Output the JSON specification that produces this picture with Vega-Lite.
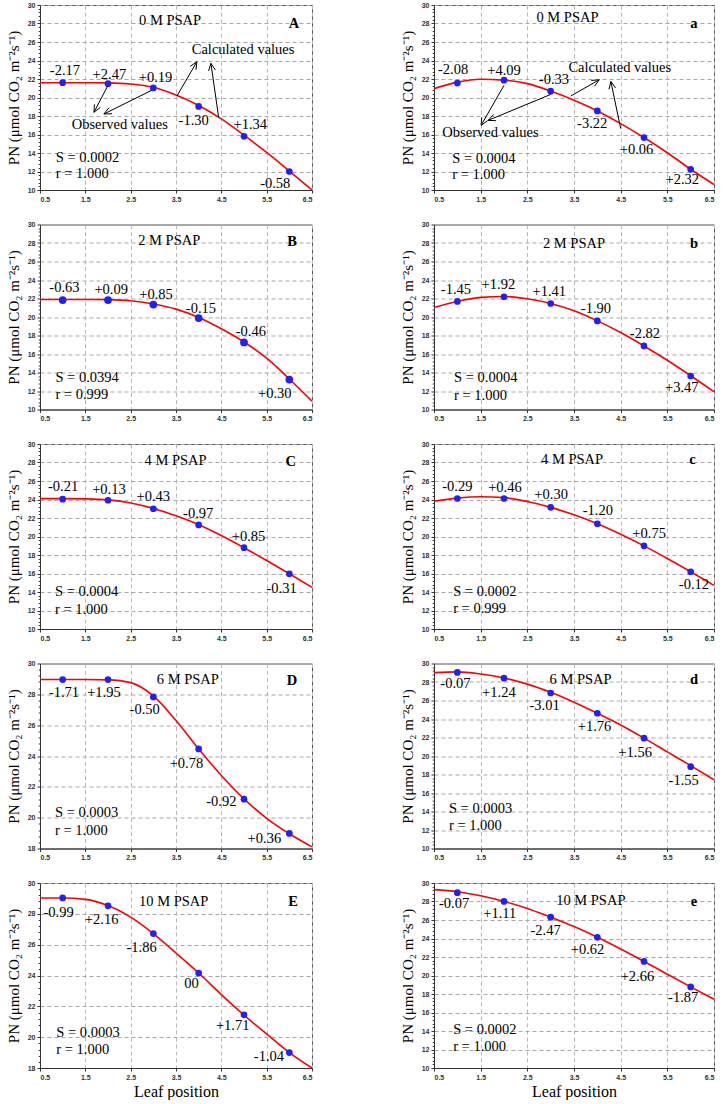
{
"$schema": "https://vega.github.io/schema/vega-lite/v6.json",
"padding": {"left": 5, "top": 0, "right": 2, "bottom": 0},
"background": "white",
"datasets": {
"curves": [
{"p":"A","x":0.5,"y":21.6},{"p":"A","x":1,"y":21.6},{"p":"A","x":1.5,"y":21.6},{"p":"A","x":2,"y":21.58},{"p":"A","x":2.5,"y":21.46},{"p":"A","x":3,"y":21.1},{"p":"A","x":3.5,"y":20.26},{"p":"A","x":4,"y":19.14},{"p":"A","x":4.5,"y":17.69},{"p":"A","x":5,"y":15.93},{"p":"A","x":5.5,"y":14.06},{"p":"A","x":6,"y":12.05},{"p":"A","x":6.5,"y":10.0},
{"p":"a","x":0.5,"y":20.96},{"p":"a","x":1,"y":21.66},{"p":"a","x":1.5,"y":21.98},{"p":"a","x":2,"y":21.88},{"p":"a","x":2.5,"y":21.5},{"p":"a","x":3,"y":20.7},{"p":"a","x":3.5,"y":19.7},{"p":"a","x":4,"y":18.55},{"p":"a","x":4.5,"y":17.18},{"p":"a","x":5,"y":15.67},{"p":"a","x":5.5,"y":14.03},{"p":"a","x":6,"y":12.24},{"p":"a","x":6.5,"y":10.6},
{"p":"B","x":0.5,"y":21.9},{"p":"B","x":1,"y":21.9},{"p":"B","x":1.5,"y":21.9},{"p":"B","x":2,"y":21.88},{"p":"B","x":2.5,"y":21.76},{"p":"B","x":3,"y":21.4},{"p":"B","x":3.5,"y":20.85},{"p":"B","x":4,"y":19.95},{"p":"B","x":4.5,"y":18.73},{"p":"B","x":5,"y":17.3},{"p":"B","x":5.5,"y":15.55},{"p":"B","x":6,"y":13.3},{"p":"B","x":6.5,"y":10.9},
{"p":"b","x":0.5,"y":21.03},{"p":"b","x":1,"y":21.68},{"p":"b","x":1.5,"y":22.12},{"p":"b","x":2,"y":22.22},{"p":"b","x":2.5,"y":21.97},{"p":"b","x":3,"y":21.46},{"p":"b","x":3.5,"y":20.67},{"p":"b","x":4,"y":19.58},{"p":"b","x":4.5,"y":18.32},{"p":"b","x":5,"y":16.87},{"p":"b","x":5.5,"y":15.32},{"p":"b","x":6,"y":13.65},{"p":"b","x":6.5,"y":11.92},
{"p":"C","x":0.5,"y":24.1},{"p":"C","x":1,"y":24.1},{"p":"C","x":1.5,"y":24.07},{"p":"C","x":2,"y":23.96},{"p":"C","x":2.5,"y":23.63},{"p":"C","x":3,"y":23.04},{"p":"C","x":3.5,"y":22.23},{"p":"C","x":4,"y":21.28},{"p":"C","x":4.5,"y":20.11},{"p":"C","x":5,"y":18.79},{"p":"C","x":5.5,"y":17.4},{"p":"C","x":6,"y":15.97},{"p":"C","x":6.5,"y":14.5},
{"p":"c","x":0.5,"y":23.81},{"p":"c","x":1,"y":24.15},{"p":"c","x":1.5,"y":24.3},{"p":"c","x":2,"y":24.2},{"p":"c","x":2.5,"y":23.78},{"p":"c","x":3,"y":23.15},{"p":"c","x":3.5,"y":22.34},{"p":"c","x":4,"y":21.38},{"p":"c","x":4.5,"y":20.24},{"p":"c","x":5,"y":18.99},{"p":"c","x":5.5,"y":17.62},{"p":"c","x":6,"y":16.19},{"p":"c","x":6.5,"y":14.71},
{"p":"D","x":0.5,"y":28.96},{"p":"D","x":1,"y":28.96},{"p":"D","x":1.5,"y":28.96},{"p":"D","x":2,"y":28.94},{"p":"D","x":2.5,"y":28.76},{"p":"D","x":3,"y":27.9},{"p":"D","x":3.5,"y":26.3},{"p":"D","x":4,"y":24.46},{"p":"D","x":4.5,"y":22.74},{"p":"D","x":5,"y":21.22},{"p":"D","x":5.5,"y":19.96},{"p":"D","x":6,"y":18.96},{"p":"D","x":6.5,"y":18.11},
{"p":"d","x":0.5,"y":29.01},{"p":"d","x":1,"y":29.1},{"p":"d","x":1.5,"y":28.87},{"p":"d","x":2,"y":28.44},{"p":"d","x":2.5,"y":27.77},{"p":"d","x":3,"y":26.88},{"p":"d","x":3.5,"y":25.82},{"p":"d","x":4,"y":24.62},{"p":"d","x":4.5,"y":23.35},{"p":"d","x":5,"y":21.93},{"p":"d","x":5.5,"y":20.44},{"p":"d","x":6,"y":18.96},{"p":"d","x":6.5,"y":17.43},
{"p":"E","x":0.5,"y":29.03},{"p":"E","x":1,"y":29.03},{"p":"E","x":1.5,"y":28.94},{"p":"E","x":2,"y":28.54},{"p":"E","x":2.5,"y":27.79},{"p":"E","x":3,"y":26.72},{"p":"E","x":3.5,"y":25.46},{"p":"E","x":4,"y":24.16},{"p":"E","x":4.5,"y":22.76},{"p":"E","x":5,"y":21.43},{"p":"E","x":5.5,"y":20.21},{"p":"E","x":6,"y":19.0},{"p":"E","x":6.5,"y":18.0},
{"p":"e","x":0.5,"y":29.28},{"p":"e","x":1,"y":29.06},{"p":"e","x":1.5,"y":28.62},{"p":"e","x":2,"y":28.01},{"p":"e","x":2.5,"y":27.25},{"p":"e","x":3,"y":26.3},{"p":"e","x":3.5,"y":25.29},{"p":"e","x":4,"y":24.13},{"p":"e","x":4.5,"y":22.86},{"p":"e","x":5,"y":21.52},{"p":"e","x":5.5,"y":20.14},{"p":"e","x":6,"y":18.77},{"p":"e","x":6.5,"y":17.43}
],
"obs": [
{"p":"A","x":1,"y":21.6},{"p":"A","x":2,"y":21.5},{"p":"A","x":3,"y":21.04},{"p":"A","x":4,"y":19.03},{"p":"A","x":5,"y":15.8},{"p":"A","x":6,"y":12.0},
{"p":"a","x":1,"y":21.56},{"p":"a","x":2,"y":21.87},{"p":"a","x":3,"y":20.68},{"p":"a","x":4,"y":18.55},{"p":"a","x":5,"y":15.67},{"p":"a","x":6,"y":12.24},
{"p":"B","x":1,"y":21.83},{"p":"B","x":2,"y":21.83},{"p":"B","x":3,"y":21.34},{"p":"B","x":4,"y":19.89},{"p":"B","x":5,"y":17.25},{"p":"B","x":6,"y":13.24},
{"p":"b","x":1,"y":21.68},{"p":"b","x":2,"y":22.19},{"p":"b","x":3,"y":21.46},{"p":"b","x":4,"y":19.58},{"p":"b","x":5,"y":16.87},{"p":"b","x":6,"y":13.62},
{"p":"C","x":1,"y":24.03},{"p":"C","x":2,"y":23.92},{"p":"C","x":3,"y":23.0},{"p":"C","x":4,"y":21.25},{"p":"C","x":5,"y":18.79},{"p":"C","x":6,"y":15.97},
{"p":"c","x":1,"y":24.11},{"p":"c","x":2,"y":24.11},{"p":"c","x":3,"y":23.15},{"p":"c","x":4,"y":21.38},{"p":"c","x":5,"y":18.99},{"p":"c","x":6,"y":16.19},
{"p":"D","x":1,"y":28.96},{"p":"D","x":2,"y":28.96},{"p":"D","x":3,"y":27.83},{"p":"D","x":4,"y":24.46},{"p":"D","x":5,"y":21.2},{"p":"D","x":6,"y":18.98},
{"p":"d","x":1,"y":29.04},{"p":"d","x":2,"y":28.41},{"p":"d","x":3,"y":26.81},{"p":"d","x":4,"y":24.62},{"p":"d","x":5,"y":21.93},{"p":"d","x":6,"y":18.85},
{"p":"E","x":1,"y":29.03},{"p":"E","x":2,"y":28.52},{"p":"E","x":3,"y":26.72},{"p":"E","x":4,"y":24.16},{"p":"E","x":5,"y":21.45},{"p":"E","x":6,"y":19.0},
{"p":"e","x":1,"y":28.95},{"p":"e","x":2,"y":28.01},{"p":"e","x":3,"y":26.3},{"p":"e","x":4,"y":24.13},{"p":"e","x":5,"y":21.52},{"p":"e","x":6,"y":18.77}
],
"labels": [
{"p":"A","r":"v","x":1.05,"y":22.9,"t":"-2.17"},{"p":"A","r":"v","x":2.03,"y":22.45,"t":"+2.47"},{"p":"A","r":"v","x":3.05,"y":22.1,"t":"+0.19"},{"p":"A","r":"v","x":3.89,"y":17.5,"t":"-1.30"},{"p":"A","r":"v","x":5.14,"y":17.0,"t":"+1.34"},{"p":"A","r":"v","x":5.69,"y":10.6,"t":"-0.58"},
{"p":"A","r":"n","x":2.26,"y":17.0,"t":"Observed values"},{"p":"A","r":"n","x":4.98,"y":25.1,"t":"Calculated values"},{"p":"A","r":"h","x":3.37,"y":28.3,"t":"0 M PSAP"},{"p":"A","r":"k","x":6.1,"y":28.0,"t":"A"},{"p":"A","r":"s","x":0.85,"y":13.5,"t":"S = 0.0002"},{"p":"A","r":"s","x":0.85,"y":11.7,"t":"r = 1.000"},
{"p":"a","r":"v","x":0.91,"y":22.96,"t":"-2.08"},{"p":"a","r":"v","x":2.0,"y":22.9,"t":"+4.09"},{"p":"a","r":"v","x":3.07,"y":21.9,"t":"-0.33"},{"p":"a","r":"v","x":3.89,"y":17.1,"t":"-3.22"},{"p":"a","r":"v","x":4.84,"y":14.3,"t":"+0.06"},{"p":"a","r":"v","x":5.82,"y":11.1,"t":"+2.32"},
{"p":"a","r":"n","x":1.71,"y":16.2,"t":"Observed values"},{"p":"a","r":"n","x":4.48,"y":23.2,"t":"Calculated values"},{"p":"a","r":"h","x":3.36,"y":28.6,"t":"0 M PSAP"},{"p":"a","r":"k","x":6.07,"y":28.0,"t":"a"},{"p":"a","r":"s","x":0.89,"y":13.3,"t":"S = 0.0004"},{"p":"a","r":"s","x":0.89,"y":11.6,"t":"r = 1.000"},
{"p":"B","r":"v","x":1.04,"y":23.13,"t":"-0.63"},{"p":"B","r":"v","x":2.07,"y":22.96,"t":"+0.09"},{"p":"B","r":"v","x":3.06,"y":22.43,"t":"+0.85"},{"p":"B","r":"v","x":4.05,"y":20.85,"t":"-0.15"},{"p":"B","r":"v","x":5.15,"y":18.38,"t":"-0.46"},{"p":"B","r":"v","x":5.68,"y":11.7,"t":"+0.30"},
{"p":"B","r":"h","x":3.35,"y":28.24,"t":"2 M PSAP"},{"p":"B","r":"k","x":6.06,"y":28.06,"t":"B"},{"p":"B","r":"s","x":0.84,"y":13.38,"t":"S = 0.0394"},{"p":"B","r":"s","x":0.84,"y":11.62,"t":"r = 0.999"},
{"p":"b","r":"v","x":0.97,"y":22.91,"t":"-1.45"},{"p":"b","r":"v","x":1.88,"y":23.45,"t":"+1.92"},{"p":"b","r":"v","x":2.97,"y":22.66,"t":"+1.41"},{"p":"b","r":"v","x":3.97,"y":20.85,"t":"-1.90"},{"p":"b","r":"v","x":5.02,"y":18.21,"t":"-2.82"},{"p":"b","r":"v","x":5.81,"y":12.35,"t":"+3.47"},
{"p":"b","r":"h","x":3.5,"y":27.9,"t":"2 M PSAP"},{"p":"b","r":"k","x":6.07,"y":27.9,"t":"b"},{"p":"b","r":"s","x":0.93,"y":13.36,"t":"S = 0.0004"},{"p":"b","r":"s","x":0.93,"y":11.45,"t":"r = 1.000"},
{"p":"C","r":"v","x":1.01,"y":25.31,"t":"-0.21"},{"p":"C","r":"v","x":2.02,"y":25.02,"t":"+0.13"},{"p":"C","r":"v","x":3.0,"y":24.29,"t":"+0.43"},{"p":"C","r":"v","x":3.99,"y":22.38,"t":"-0.97"},{"p":"C","r":"v","x":5.1,"y":20.0,"t":"+0.85"},{"p":"C","r":"v","x":5.83,"y":14.32,"t":"-0.31"},
{"p":"C","r":"h","x":3.49,"y":28.17,"t":"4 M PSAP"},{"p":"C","r":"k","x":6.03,"y":28.06,"t":"C"},{"p":"C","r":"s","x":0.83,"y":13.96,"t":"S = 0.0004"},{"p":"C","r":"s","x":0.83,"y":12.05,"t":"r = 1.000"},
{"p":"c","r":"v","x":1.0,"y":25.4,"t":"-0.29"},{"p":"c","r":"v","x":2.02,"y":25.29,"t":"+0.46"},{"p":"c","r":"v","x":3.01,"y":24.44,"t":"+0.30"},{"p":"c","r":"v","x":4.01,"y":22.78,"t":"-1.20"},{"p":"c","r":"v","x":5.11,"y":20.24,"t":"+0.75"},{"p":"c","r":"v","x":6.07,"y":14.79,"t":"-0.12"},
{"p":"c","r":"h","x":3.46,"y":28.23,"t":"4 M PSAP"},{"p":"c","r":"k","x":6.04,"y":28.23,"t":"c"},{"p":"c","r":"s","x":0.91,"y":14.05,"t":"S = 0.0002"},{"p":"c","r":"s","x":0.91,"y":12.21,"t":"r = 0.999"},
{"p":"D","r":"v","x":1.03,"y":28.11,"t":"-1.71"},{"p":"D","r":"v","x":1.91,"y":28.11,"t":"+1.95"},{"p":"D","r":"v","x":2.81,"y":26.96,"t":"-0.50"},{"p":"D","r":"v","x":3.73,"y":23.48,"t":"+0.78"},{"p":"D","r":"v","x":4.5,"y":21.04,"t":"-0.92"},{"p":"D","r":"v","x":5.45,"y":18.61,"t":"+0.36"},
{"p":"D","r":"h","x":3.76,"y":28.91,"t":"6 M PSAP"},{"p":"D","r":"k","x":6.06,"y":28.87,"t":"D"},{"p":"D","r":"s","x":0.83,"y":20.28,"t":"S = 0.0003"},{"p":"D","r":"s","x":0.83,"y":19.13,"t":"r = 1.000"},
{"p":"d","r":"v","x":0.96,"y":27.81,"t":"-0.07"},{"p":"d","r":"v","x":1.89,"y":26.81,"t":"+1.24"},{"p":"d","r":"v","x":2.87,"y":25.4,"t":"-3.01"},{"p":"d","r":"v","x":3.94,"y":23.1,"t":"+1.76"},{"p":"d","r":"v","x":4.81,"y":20.37,"t":"+1.56"},{"p":"d","r":"v","x":5.85,"y":17.26,"t":"-1.55"},
{"p":"d","r":"h","x":3.64,"y":28.23,"t":"6 M PSAP"},{"p":"d","r":"k","x":6.07,"y":28.23,"t":"d"},{"p":"d","r":"s","x":0.82,"y":14.32,"t":"S = 0.0003"},{"p":"d","r":"s","x":0.82,"y":12.48,"t":"r = 1.000"},
{"p":"E","r":"v","x":0.91,"y":28.07,"t":"-0.99"},{"p":"E","r":"v","x":1.86,"y":27.63,"t":"+2.16"},{"p":"E","r":"v","x":2.74,"y":25.79,"t":"-1.86"},{"p":"E","r":"v","x":3.84,"y":23.42,"t":"00"},{"p":"E","r":"v","x":4.75,"y":20.7,"t":"+1.71"},{"p":"E","r":"v","x":5.55,"y":18.71,"t":"-1.04"},
{"p":"E","r":"h","x":3.45,"y":28.74,"t":"10 M PSAP"},{"p":"E","r":"k","x":6.08,"y":28.74,"t":"E"},{"p":"E","r":"s","x":0.86,"y":20.26,"t":"S = 0.0003"},{"p":"E","r":"s","x":0.86,"y":19.15,"t":"r = 1.000"},
{"p":"e","r":"v","x":0.93,"y":27.68,"t":"-0.07"},{"p":"e","r":"v","x":1.91,"y":26.67,"t":"+1.11"},{"p":"e","r":"v","x":2.89,"y":24.86,"t":"-2.47"},{"p":"e","r":"v","x":3.79,"y":22.79,"t":"+0.62"},{"p":"e","r":"v","x":4.86,"y":19.86,"t":"+2.66"},{"p":"e","r":"v","x":5.84,"y":17.54,"t":"-1.87"},
{"p":"e","r":"h","x":3.86,"y":28.04,"t":"10 M PSAP"},{"p":"e","r":"k","x":6.07,"y":27.93,"t":"e"},{"p":"e","r":"s","x":0.91,"y":14.06,"t":"S = 0.0002"},{"p":"e","r":"s","x":0.91,"y":12.25,"t":"r = 1.000"}
],
"arrows": [
{"p":"A","x":1.99,"y":21.22,"x2":1.69,"y2":18.4},{"p":"A","x":1.69,"y":18.4,"x2":1.83,"y2":18.93},{"p":"A","x":1.69,"y":18.4,"x2":1.70,"y2":19.26},
{"p":"A","x":2.97,"y":20.79,"x2":1.91,"y2":18.22},{"p":"A","x":1.91,"y":18.22,"x2":2.09,"y2":18.24},{"p":"A","x":1.91,"y":18.22,"x2":2.02,"y2":18.89},
{"p":"A","x":3.52,"y":20.16,"x2":3.96,"y2":23.86},{"p":"A","x":3.96,"y":23.86,"x2":3.815,"y2":23.37},{"p":"A","x":3.96,"y":23.86,"x2":3.94,"y2":23.0},
{"p":"A","x":4.44,"y":17.87,"x2":4.27,"y2":23.69},{"p":"A","x":4.27,"y":23.69,"x2":4.22,"y2":22.87},{"p":"A","x":4.27,"y":23.69,"x2":4.37,"y2":22.97},
{"p":"a","x":2.0,"y":21.31,"x2":1.51,"y2":17.0},{"p":"a","x":1.51,"y":17.0,"x2":1.65,"y2":17.5},{"p":"a","x":1.51,"y":17.0,"x2":1.524,"y2":17.86},
{"p":"a","x":3.0,"y":20.33,"x2":1.66,"y2":17.53},{"p":"a","x":1.66,"y":17.53,"x2":1.83,"y2":17.49},{"p":"a","x":1.66,"y":17.53,"x2":1.78,"y2":18.17},
{"p":"a","x":3.43,"y":20.16,"x2":4.04,"y2":21.91},{"p":"a","x":4.04,"y":21.91,"x2":3.87,"y2":21.84},{"p":"a","x":4.04,"y":21.91,"x2":3.94,"y2":21.21},
{"p":"a","x":4.5,"y":16.65,"x2":4.29,"y2":21.73},{"p":"a","x":4.29,"y":21.73,"x2":4.25,"y2":20.89},{"p":"a","x":4.29,"y":21.73,"x2":4.39,"y2":21.04}
]
},
"concat": [
{"width":272,"height":185,
 "encoding":{"x":{"field":"x","type":"quantitative","scale":{"domain":[0.5,6.5],"nice":false,"zero":false},"axis":{"values":[0.5,1.5,2.5,3.5,4.5,5.5,6.5],"format":".1f","title":null}},
  "y":{"field":"y","type":"quantitative","scale":{"domain":[10,30],"nice":false,"zero":false},"axis":{"values":[10,10.4,10.8,11.2,11.6,12,12.4,12.8,13.2,13.6,14,14.4,14.8,15.2,15.6,16,16.4,16.8,17.2,17.6,18,18.4,18.8,19.2,19.6,20,20.4,20.8,21.2,21.6,22,22.4,22.8,23.2,23.6,24,24.4,24.8,25.2,25.6,26,26.4,26.8,27.2,27.6,28,28.4,28.8,29.2,29.6,30],"title":"PN (μmol CO₂ m⁻²s⁻¹)","tickSize":{"condition":{"test":"datum.value % 2 === 0","value":3},"value":1.8},"gridColor":{"condition":{"test":"datum.value % 2 === 0","value":"#a8a8a8"},"value":"rgba(255,255,255,0)"}}}},
 "layer":[
  {"data":{"name":"curves"},"transform":[{"filter":"datum.p==='A'"}],"mark":{"type":"line","color":"#ff0000","strokeWidth":1.6,"interpolate":"monotone","clip":true},"encoding":{}},
  {"data":{"name":"obs"},"transform":[{"filter":"datum.p==='A'"}],"mark":{"type":"point","filled":true,"color":"#2020ff","size":45,"opacity":1}},
  {"data":{"name":"labels"},"transform":[{"filter":"datum.p==='A' && datum.r!=='s' && datum.r!=='k'"}],"mark":{"type":"text","font":"Liberation Serif","fontSize":14.5,"align":"center","baseline":"middle","color":"#000"},"encoding":{"text":{"field":"t"}}},
  {"data":{"name":"labels"},"transform":[{"filter":"datum.p==='A' && datum.r==='s'"}],"mark":{"type":"text","font":"Liberation Serif","fontSize":14.5,"align":"left","baseline":"middle","color":"#000"},"encoding":{"text":{"field":"t"}}},
  {"data":{"name":"labels"},"transform":[{"filter":"datum.p==='A' && datum.r==='k'"}],"mark":{"type":"text","font":"Liberation Serif","fontSize":14.5,"fontWeight":"bold","align":"center","baseline":"middle","color":"#000"},"encoding":{"text":{"field":"t"}}},
  {"data":{"name":"arrows"},"transform":[{"filter":"datum.p==='A'"}],"mark":{"type":"rule","color":"#000","strokeWidth":1},"encoding":{"x2":{"field":"x2"},"y2":{"field":"y2"}}}
 ]},
{"width":280,"height":185,
 "encoding":{"x":{"field":"x","type":"quantitative","scale":{"domain":[0.5,6.5],"nice":false,"zero":false},"axis":{"values":[0.5,1.5,2.5,3.5,4.5,5.5,6.5],"format":".1f","title":null}},
  "y":{"field":"y","type":"quantitative","scale":{"domain":[10,30],"nice":false,"zero":false},"axis":{"values":[10,10.4,10.8,11.2,11.6,12,12.4,12.8,13.2,13.6,14,14.4,14.8,15.2,15.6,16,16.4,16.8,17.2,17.6,18,18.4,18.8,19.2,19.6,20,20.4,20.8,21.2,21.6,22,22.4,22.8,23.2,23.6,24,24.4,24.8,25.2,25.6,26,26.4,26.8,27.2,27.6,28,28.4,28.8,29.2,29.6,30],"title":"PN (μmol CO₂ m⁻²s⁻¹)","tickSize":{"condition":{"test":"datum.value % 2 === 0","value":3},"value":1.8},"gridColor":{"condition":{"test":"datum.value % 2 === 0","value":"#a8a8a8"},"value":"rgba(255,255,255,0)"}}}},
 "layer":[
  {"data":{"name":"curves"},"transform":[{"filter":"datum.p==='a'"}],"mark":{"type":"line","color":"#ff0000","strokeWidth":1.6,"interpolate":"monotone","clip":true},"encoding":{}},
  {"data":{"name":"obs"},"transform":[{"filter":"datum.p==='a'"}],"mark":{"type":"point","filled":true,"color":"#2020ff","size":45,"opacity":1}},
  {"data":{"name":"labels"},"transform":[{"filter":"datum.p==='a' && datum.r!=='s' && datum.r!=='k'"}],"mark":{"type":"text","font":"Liberation Serif","fontSize":14.5,"align":"center","baseline":"middle","color":"#000"},"encoding":{"text":{"field":"t"}}},
  {"data":{"name":"labels"},"transform":[{"filter":"datum.p==='a' && datum.r==='s'"}],"mark":{"type":"text","font":"Liberation Serif","fontSize":14.5,"align":"left","baseline":"middle","color":"#000"},"encoding":{"text":{"field":"t"}}},
  {"data":{"name":"labels"},"transform":[{"filter":"datum.p==='a' && datum.r==='k'"}],"mark":{"type":"text","font":"Liberation Serif","fontSize":14.5,"fontWeight":"bold","align":"center","baseline":"middle","color":"#000"},"encoding":{"text":{"field":"t"}}},
  {"data":{"name":"arrows"},"transform":[{"filter":"datum.p==='a'"}],"mark":{"type":"rule","color":"#000","strokeWidth":1},"encoding":{"x2":{"field":"x2"},"y2":{"field":"y2"}}}
 ]},
{"width":272,"height":185,
 "encoding":{"x":{"field":"x","type":"quantitative","scale":{"domain":[0.5,6.5],"nice":false,"zero":false},"axis":{"values":[0.5,1.5,2.5,3.5,4.5,5.5,6.5],"format":".1f","title":null}},
  "y":{"field":"y","type":"quantitative","scale":{"domain":[10,30],"nice":false,"zero":false},"axis":{"values":[10,10.4,10.8,11.2,11.6,12,12.4,12.8,13.2,13.6,14,14.4,14.8,15.2,15.6,16,16.4,16.8,17.2,17.6,18,18.4,18.8,19.2,19.6,20,20.4,20.8,21.2,21.6,22,22.4,22.8,23.2,23.6,24,24.4,24.8,25.2,25.6,26,26.4,26.8,27.2,27.6,28,28.4,28.8,29.2,29.6,30],"title":"PN (μmol CO₂ m⁻²s⁻¹)","tickSize":{"condition":{"test":"datum.value % 2 === 0","value":3},"value":1.8},"gridColor":{"condition":{"test":"datum.value % 2 === 0","value":"#a8a8a8"},"value":"rgba(255,255,255,0)"}}}},
 "layer":[
  {"data":{"name":"curves"},"transform":[{"filter":"datum.p==='B'"}],"mark":{"type":"line","color":"#ff0000","strokeWidth":1.6,"interpolate":"monotone","clip":true},"encoding":{}},
  {"data":{"name":"obs"},"transform":[{"filter":"datum.p==='B'"}],"mark":{"type":"point","filled":true,"color":"#2020ff","size":60,"opacity":1}},
  {"data":{"name":"labels"},"transform":[{"filter":"datum.p==='B' && datum.r!=='s' && datum.r!=='k'"}],"mark":{"type":"text","font":"Liberation Serif","fontSize":14.5,"align":"center","baseline":"middle","color":"#000"},"encoding":{"text":{"field":"t"}}},
  {"data":{"name":"labels"},"transform":[{"filter":"datum.p==='B' && datum.r==='s'"}],"mark":{"type":"text","font":"Liberation Serif","fontSize":14.5,"align":"left","baseline":"middle","color":"#000"},"encoding":{"text":{"field":"t"}}},
  {"data":{"name":"labels"},"transform":[{"filter":"datum.p==='B' && datum.r==='k'"}],"mark":{"type":"text","font":"Liberation Serif","fontSize":14.5,"fontWeight":"bold","align":"center","baseline":"middle","color":"#000"},"encoding":{"text":{"field":"t"}}}
 ]},
{"width":280,"height":185,
 "encoding":{"x":{"field":"x","type":"quantitative","scale":{"domain":[0.5,6.5],"nice":false,"zero":false},"axis":{"values":[0.5,1.5,2.5,3.5,4.5,5.5,6.5],"format":".1f","title":null}},
  "y":{"field":"y","type":"quantitative","scale":{"domain":[10,30],"nice":false,"zero":false},"axis":{"values":[10,10.4,10.8,11.2,11.6,12,12.4,12.8,13.2,13.6,14,14.4,14.8,15.2,15.6,16,16.4,16.8,17.2,17.6,18,18.4,18.8,19.2,19.6,20,20.4,20.8,21.2,21.6,22,22.4,22.8,23.2,23.6,24,24.4,24.8,25.2,25.6,26,26.4,26.8,27.2,27.6,28,28.4,28.8,29.2,29.6,30],"title":"PN (μmol CO₂ m⁻²s⁻¹)","tickSize":{"condition":{"test":"datum.value % 2 === 0","value":3},"value":1.8},"gridColor":{"condition":{"test":"datum.value % 2 === 0","value":"#a8a8a8"},"value":"rgba(255,255,255,0)"}}}},
 "layer":[
  {"data":{"name":"curves"},"transform":[{"filter":"datum.p==='b'"}],"mark":{"type":"line","color":"#ff0000","strokeWidth":1.6,"interpolate":"monotone","clip":true},"encoding":{}},
  {"data":{"name":"obs"},"transform":[{"filter":"datum.p==='b'"}],"mark":{"type":"point","filled":true,"color":"#2020ff","size":45,"opacity":1}},
  {"data":{"name":"labels"},"transform":[{"filter":"datum.p==='b' && datum.r!=='s' && datum.r!=='k'"}],"mark":{"type":"text","font":"Liberation Serif","fontSize":14.5,"align":"center","baseline":"middle","color":"#000"},"encoding":{"text":{"field":"t"}}},
  {"data":{"name":"labels"},"transform":[{"filter":"datum.p==='b' && datum.r==='s'"}],"mark":{"type":"text","font":"Liberation Serif","fontSize":14.5,"align":"left","baseline":"middle","color":"#000"},"encoding":{"text":{"field":"t"}}},
  {"data":{"name":"labels"},"transform":[{"filter":"datum.p==='b' && datum.r==='k'"}],"mark":{"type":"text","font":"Liberation Serif","fontSize":14.5,"fontWeight":"bold","align":"center","baseline":"middle","color":"#000"},"encoding":{"text":{"field":"t"}}}
 ]},
{"width":272,"height":185,
 "encoding":{"x":{"field":"x","type":"quantitative","scale":{"domain":[0.5,6.5],"nice":false,"zero":false},"axis":{"values":[0.5,1.5,2.5,3.5,4.5,5.5,6.5],"format":".1f","title":null}},
  "y":{"field":"y","type":"quantitative","scale":{"domain":[10,30],"nice":false,"zero":false},"axis":{"values":[10,10.4,10.8,11.2,11.6,12,12.4,12.8,13.2,13.6,14,14.4,14.8,15.2,15.6,16,16.4,16.8,17.2,17.6,18,18.4,18.8,19.2,19.6,20,20.4,20.8,21.2,21.6,22,22.4,22.8,23.2,23.6,24,24.4,24.8,25.2,25.6,26,26.4,26.8,27.2,27.6,28,28.4,28.8,29.2,29.6,30],"title":"PN (μmol CO₂ m⁻²s⁻¹)","tickSize":{"condition":{"test":"datum.value % 2 === 0","value":3},"value":1.8},"gridColor":{"condition":{"test":"datum.value % 2 === 0","value":"#a8a8a8"},"value":"rgba(255,255,255,0)"}}}},
 "layer":[
  {"data":{"name":"curves"},"transform":[{"filter":"datum.p==='C'"}],"mark":{"type":"line","color":"#ff0000","strokeWidth":1.6,"interpolate":"monotone","clip":true},"encoding":{}},
  {"data":{"name":"obs"},"transform":[{"filter":"datum.p==='C'"}],"mark":{"type":"point","filled":true,"color":"#2020ff","size":45,"opacity":1}},
  {"data":{"name":"labels"},"transform":[{"filter":"datum.p==='C' && datum.r!=='s' && datum.r!=='k'"}],"mark":{"type":"text","font":"Liberation Serif","fontSize":14.5,"align":"center","baseline":"middle","color":"#000"},"encoding":{"text":{"field":"t"}}},
  {"data":{"name":"labels"},"transform":[{"filter":"datum.p==='C' && datum.r==='s'"}],"mark":{"type":"text","font":"Liberation Serif","fontSize":14.5,"align":"left","baseline":"middle","color":"#000"},"encoding":{"text":{"field":"t"}}},
  {"data":{"name":"labels"},"transform":[{"filter":"datum.p==='C' && datum.r==='k'"}],"mark":{"type":"text","font":"Liberation Serif","fontSize":14.5,"fontWeight":"bold","align":"center","baseline":"middle","color":"#000"},"encoding":{"text":{"field":"t"}}}
 ]},
{"width":280,"height":185,
 "encoding":{"x":{"field":"x","type":"quantitative","scale":{"domain":[0.5,6.5],"nice":false,"zero":false},"axis":{"values":[0.5,1.5,2.5,3.5,4.5,5.5,6.5],"format":".1f","title":null}},
  "y":{"field":"y","type":"quantitative","scale":{"domain":[10,30],"nice":false,"zero":false},"axis":{"values":[10,10.4,10.8,11.2,11.6,12,12.4,12.8,13.2,13.6,14,14.4,14.8,15.2,15.6,16,16.4,16.8,17.2,17.6,18,18.4,18.8,19.2,19.6,20,20.4,20.8,21.2,21.6,22,22.4,22.8,23.2,23.6,24,24.4,24.8,25.2,25.6,26,26.4,26.8,27.2,27.6,28,28.4,28.8,29.2,29.6,30],"title":"PN (μmol CO₂ m⁻²s⁻¹)","tickSize":{"condition":{"test":"datum.value % 2 === 0","value":3},"value":1.8},"gridColor":{"condition":{"test":"datum.value % 2 === 0","value":"#a8a8a8"},"value":"rgba(255,255,255,0)"}}}},
 "layer":[
  {"data":{"name":"curves"},"transform":[{"filter":"datum.p==='c'"}],"mark":{"type":"line","color":"#ff0000","strokeWidth":1.6,"interpolate":"monotone","clip":true},"encoding":{}},
  {"data":{"name":"obs"},"transform":[{"filter":"datum.p==='c'"}],"mark":{"type":"point","filled":true,"color":"#2020ff","size":45,"opacity":1}},
  {"data":{"name":"labels"},"transform":[{"filter":"datum.p==='c' && datum.r!=='s' && datum.r!=='k'"}],"mark":{"type":"text","font":"Liberation Serif","fontSize":14.5,"align":"center","baseline":"middle","color":"#000"},"encoding":{"text":{"field":"t"}}},
  {"data":{"name":"labels"},"transform":[{"filter":"datum.p==='c' && datum.r==='s'"}],"mark":{"type":"text","font":"Liberation Serif","fontSize":14.5,"align":"left","baseline":"middle","color":"#000"},"encoding":{"text":{"field":"t"}}},
  {"data":{"name":"labels"},"transform":[{"filter":"datum.p==='c' && datum.r==='k'"}],"mark":{"type":"text","font":"Liberation Serif","fontSize":14.5,"fontWeight":"bold","align":"center","baseline":"middle","color":"#000"},"encoding":{"text":{"field":"t"}}}
 ]},
{"width":272,"height":185,
 "encoding":{"x":{"field":"x","type":"quantitative","scale":{"domain":[0.5,6.5],"nice":false,"zero":false},"axis":{"values":[0.5,1.5,2.5,3.5,4.5,5.5,6.5],"format":".1f","title":null}},
  "y":{"field":"y","type":"quantitative","scale":{"domain":[18,30],"nice":false,"zero":false},"axis":{"values":[18,18.4,18.8,19.2,19.6,20,20.4,20.8,21.2,21.6,22,22.4,22.8,23.2,23.6,24,24.4,24.8,25.2,25.6,26,26.4,26.8,27.2,27.6,28,28.4,28.8,29.2,29.6,30],"title":"PN (μmol CO₂ m⁻²s⁻¹)","tickSize":{"condition":{"test":"datum.value % 2 === 0","value":3},"value":1.8},"gridColor":{"condition":{"test":"datum.value % 2 === 0","value":"#a8a8a8"},"value":"rgba(255,255,255,0)"}}}},
 "layer":[
  {"data":{"name":"curves"},"transform":[{"filter":"datum.p==='D'"}],"mark":{"type":"line","color":"#ff0000","strokeWidth":1.6,"interpolate":"monotone","clip":true},"encoding":{}},
  {"data":{"name":"obs"},"transform":[{"filter":"datum.p==='D'"}],"mark":{"type":"point","filled":true,"color":"#2020ff","size":45,"opacity":1}},
  {"data":{"name":"labels"},"transform":[{"filter":"datum.p==='D' && datum.r!=='s' && datum.r!=='k'"}],"mark":{"type":"text","font":"Liberation Serif","fontSize":14.5,"align":"center","baseline":"middle","color":"#000"},"encoding":{"text":{"field":"t"}}},
  {"data":{"name":"labels"},"transform":[{"filter":"datum.p==='D' && datum.r==='s'"}],"mark":{"type":"text","font":"Liberation Serif","fontSize":14.5,"align":"left","baseline":"middle","color":"#000"},"encoding":{"text":{"field":"t"}}},
  {"data":{"name":"labels"},"transform":[{"filter":"datum.p==='D' && datum.r==='k'"}],"mark":{"type":"text","font":"Liberation Serif","fontSize":14.5,"fontWeight":"bold","align":"center","baseline":"middle","color":"#000"},"encoding":{"text":{"field":"t"}}}
 ]},
{"width":280,"height":185,
 "encoding":{"x":{"field":"x","type":"quantitative","scale":{"domain":[0.5,6.5],"nice":false,"zero":false},"axis":{"values":[0.5,1.5,2.5,3.5,4.5,5.5,6.5],"format":".1f","title":null}},
  "y":{"field":"y","type":"quantitative","scale":{"domain":[10,30],"nice":false,"zero":false},"axis":{"values":[10,10.4,10.8,11.2,11.6,12,12.4,12.8,13.2,13.6,14,14.4,14.8,15.2,15.6,16,16.4,16.8,17.2,17.6,18,18.4,18.8,19.2,19.6,20,20.4,20.8,21.2,21.6,22,22.4,22.8,23.2,23.6,24,24.4,24.8,25.2,25.6,26,26.4,26.8,27.2,27.6,28,28.4,28.8,29.2,29.6,30],"title":"PN (μmol CO₂ m⁻²s⁻¹)","tickSize":{"condition":{"test":"datum.value % 2 === 0","value":3},"value":1.8},"gridColor":{"condition":{"test":"datum.value % 2 === 0","value":"#a8a8a8"},"value":"rgba(255,255,255,0)"}}}},
 "layer":[
  {"data":{"name":"curves"},"transform":[{"filter":"datum.p==='d'"}],"mark":{"type":"line","color":"#ff0000","strokeWidth":1.6,"interpolate":"monotone","clip":true},"encoding":{}},
  {"data":{"name":"obs"},"transform":[{"filter":"datum.p==='d'"}],"mark":{"type":"point","filled":true,"color":"#2020ff","size":45,"opacity":1}},
  {"data":{"name":"labels"},"transform":[{"filter":"datum.p==='d' && datum.r!=='s' && datum.r!=='k'"}],"mark":{"type":"text","font":"Liberation Serif","fontSize":14.5,"align":"center","baseline":"middle","color":"#000"},"encoding":{"text":{"field":"t"}}},
  {"data":{"name":"labels"},"transform":[{"filter":"datum.p==='d' && datum.r==='s'"}],"mark":{"type":"text","font":"Liberation Serif","fontSize":14.5,"align":"left","baseline":"middle","color":"#000"},"encoding":{"text":{"field":"t"}}},
  {"data":{"name":"labels"},"transform":[{"filter":"datum.p==='d' && datum.r==='k'"}],"mark":{"type":"text","font":"Liberation Serif","fontSize":14.5,"fontWeight":"bold","align":"center","baseline":"middle","color":"#000"},"encoding":{"text":{"field":"t"}}}
 ]},
{"width":272,"height":185,
 "encoding":{"x":{"field":"x","type":"quantitative","scale":{"domain":[0.5,6.5],"nice":false,"zero":false},"axis":{"values":[0.5,1.5,2.5,3.5,4.5,5.5,6.5],"format":".1f","title":"Leaf position"}},
  "y":{"field":"y","type":"quantitative","scale":{"domain":[18,30],"nice":false,"zero":false},"axis":{"values":[18,18.4,18.8,19.2,19.6,20,20.4,20.8,21.2,21.6,22,22.4,22.8,23.2,23.6,24,24.4,24.8,25.2,25.6,26,26.4,26.8,27.2,27.6,28,28.4,28.8,29.2,29.6,30],"title":"PN (μmol CO₂ m⁻²s⁻¹)","tickSize":{"condition":{"test":"datum.value % 2 === 0","value":3},"value":1.8},"gridColor":{"condition":{"test":"datum.value % 2 === 0","value":"#a8a8a8"},"value":"rgba(255,255,255,0)"}}}},
 "layer":[
  {"data":{"name":"curves"},"transform":[{"filter":"datum.p==='E'"}],"mark":{"type":"line","color":"#ff0000","strokeWidth":1.6,"interpolate":"monotone","clip":true},"encoding":{}},
  {"data":{"name":"obs"},"transform":[{"filter":"datum.p==='E'"}],"mark":{"type":"point","filled":true,"color":"#2020ff","size":45,"opacity":1}},
  {"data":{"name":"labels"},"transform":[{"filter":"datum.p==='E' && datum.r!=='s' && datum.r!=='k'"}],"mark":{"type":"text","font":"Liberation Serif","fontSize":14.5,"align":"center","baseline":"middle","color":"#000"},"encoding":{"text":{"field":"t"}}},
  {"data":{"name":"labels"},"transform":[{"filter":"datum.p==='E' && datum.r==='s'"}],"mark":{"type":"text","font":"Liberation Serif","fontSize":14.5,"align":"left","baseline":"middle","color":"#000"},"encoding":{"text":{"field":"t"}}},
  {"data":{"name":"labels"},"transform":[{"filter":"datum.p==='E' && datum.r==='k'"}],"mark":{"type":"text","font":"Liberation Serif","fontSize":14.5,"fontWeight":"bold","align":"center","baseline":"middle","color":"#000"},"encoding":{"text":{"field":"t"}}}
 ]},
{"width":280,"height":185,
 "encoding":{"x":{"field":"x","type":"quantitative","scale":{"domain":[0.5,6.5],"nice":false,"zero":false},"axis":{"values":[0.5,1.5,2.5,3.5,4.5,5.5,6.5],"format":".1f","title":"Leaf position"}},
  "y":{"field":"y","type":"quantitative","scale":{"domain":[10,30],"nice":false,"zero":false},"axis":{"values":[10,10.4,10.8,11.2,11.6,12,12.4,12.8,13.2,13.6,14,14.4,14.8,15.2,15.6,16,16.4,16.8,17.2,17.6,18,18.4,18.8,19.2,19.6,20,20.4,20.8,21.2,21.6,22,22.4,22.8,23.2,23.6,24,24.4,24.8,25.2,25.6,26,26.4,26.8,27.2,27.6,28,28.4,28.8,29.2,29.6,30],"title":"PN (μmol CO₂ m⁻²s⁻¹)","tickSize":{"condition":{"test":"datum.value % 2 === 0","value":3},"value":1.8},"gridColor":{"condition":{"test":"datum.value % 2 === 0","value":"#a8a8a8"},"value":"rgba(255,255,255,0)"}}}},
 "layer":[
  {"data":{"name":"curves"},"transform":[{"filter":"datum.p==='e'"}],"mark":{"type":"line","color":"#ff0000","strokeWidth":1.6,"interpolate":"monotone","clip":true},"encoding":{}},
  {"data":{"name":"obs"},"transform":[{"filter":"datum.p==='e'"}],"mark":{"type":"point","filled":true,"color":"#2020ff","size":45,"opacity":1}},
  {"data":{"name":"labels"},"transform":[{"filter":"datum.p==='e' && datum.r!=='s' && datum.r!=='k'"}],"mark":{"type":"text","font":"Liberation Serif","fontSize":14.5,"align":"center","baseline":"middle","color":"#000"},"encoding":{"text":{"field":"t"}}},
  {"data":{"name":"labels"},"transform":[{"filter":"datum.p==='e' && datum.r==='s'"}],"mark":{"type":"text","font":"Liberation Serif","fontSize":14.5,"align":"left","baseline":"middle","color":"#000"},"encoding":{"text":{"field":"t"}}},
  {"data":{"name":"labels"},"transform":[{"filter":"datum.p==='e' && datum.r==='k'"}],"mark":{"type":"text","font":"Liberation Serif","fontSize":14.5,"fontWeight":"bold","align":"center","baseline":"middle","color":"#000"},"encoding":{"text":{"field":"t"}}}
 ]}
],
"columns": 2,
"align": "each",
"spacing": {"row": 16.5, "column": 86},
"config": {
 "view": {"stroke": "#555", "strokeWidth": 1},
 "axis": {"labelFont": "Liberation Sans", "labelFontSize": 7, "labelFontWeight": "bold", "labelColor": "#333", "domainColor": "#333", "tickColor": "#333", "tickSize": 3, "labelPadding": 2, "gridColor": "#b8b8b8", "gridDash": [4, 3], "gridWidth": 1, "titleFont": "Liberation Serif", "titleFontWeight": "normal", "titleColor": "#000", "labelOverlap": false},
 "axisX": {"titleFontSize": 16, "titlePadding": 3},
 "axisY": {"titleFontSize": 15, "titlePadding": 6, "gridOpacity": 1,
   "labelExpr": "datum.value % 2 === 0 ? format(datum.value, 'd') : ''"}
}
}
